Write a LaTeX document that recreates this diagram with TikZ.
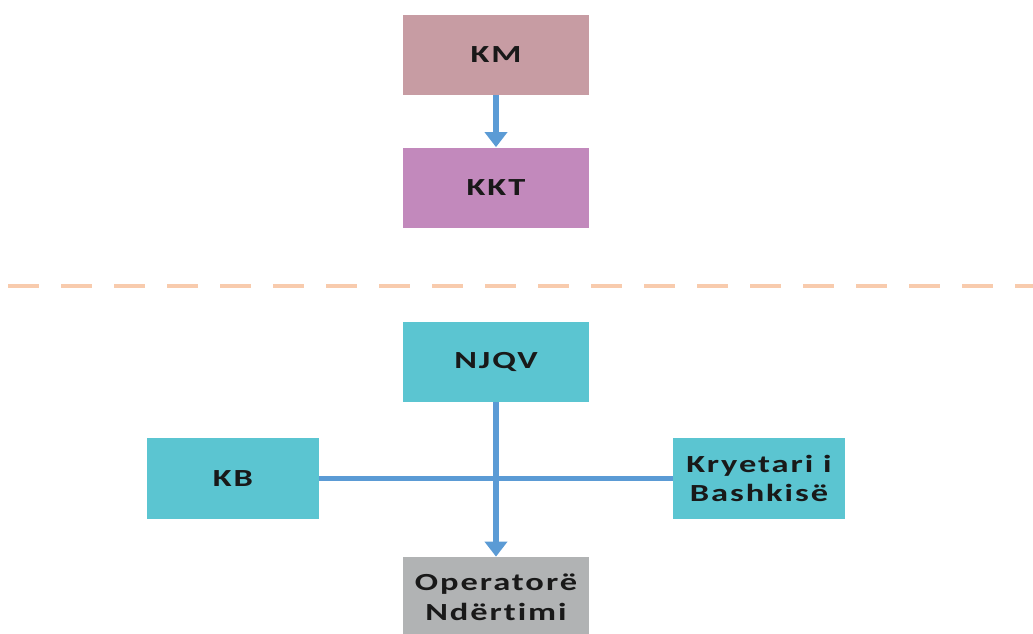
\documentclass[tikz,border=0pt]{standalone}
\usepackage{fontspec}
\setmainfont{Carlito}[FakeStretch=1.4, LetterSpace=8, Ligatures=NoCommon]
\usepackage{tikz}
\usetikzlibrary{arrows.meta}

\definecolor{kmrose}{HTML}{C79CA3}
\definecolor{kktpurple}{HTML}{C289BC}
\definecolor{unitteal}{HTML}{5BC5D1}
\definecolor{opgray}{HTML}{B1B3B4}
\definecolor{flowblue}{HTML}{5B9BD5}
\definecolor{splitpeach}{HTML}{F8CBAD}

\begin{document}
\begin{tikzpicture}[
  box/.style={minimum width=3.72cm, minimum height=1.6cm, inner sep=0pt,
    align=center, text=black!90, font=\bfseries\fontsize{14}{17}\selectfont},
  sidebox/.style={box, minimum width=3.44cm, minimum height=1.62cm},
  flow/.style={draw=flowblue, line width=3.4pt,
    -{Triangle[width=0.44cm,length=0.3cm]}},
  link/.style={draw=flowblue, line width=2.3pt}]
\useasboundingbox (0,0) rectangle (20.66cm,-12.66cm);

\draw (9.92cm,-1.10cm)  node (km)   [box, fill=kmrose]    {KM};
\draw (9.92cm,-3.75cm)  node (kkt)  [box, fill=kktpurple] {KKT};
\draw[flow] (km) -- (kkt);

\draw (0.16cm,-5.72cm)  coordinate (splitl);
\draw (20.66cm,-5.72cm) coordinate (splitr);
\draw[splitpeach, line width=2.3pt, dash pattern=on 0.62cm off 0.44cm] (splitl) -- (splitr);

\draw (9.92cm,-7.23cm)  node (njqv) [box, fill=unitteal]  {NJQV};
\draw (4.66cm,-9.57cm)  node (kb)   [sidebox, fill=unitteal] {KB};
\draw (15.18cm,-9.57cm) node (kryt) [sidebox, fill=unitteal] {Kryetari i\\Bashkisë};
\draw (9.92cm,-11.94cm) node (oper) [box, fill=opgray]    {Operatorë\\Ndërtimi};
\draw[link] (kb) -- (kryt);
\draw[flow] (njqv) -- (oper);

\end{tikzpicture}
\end{document}
